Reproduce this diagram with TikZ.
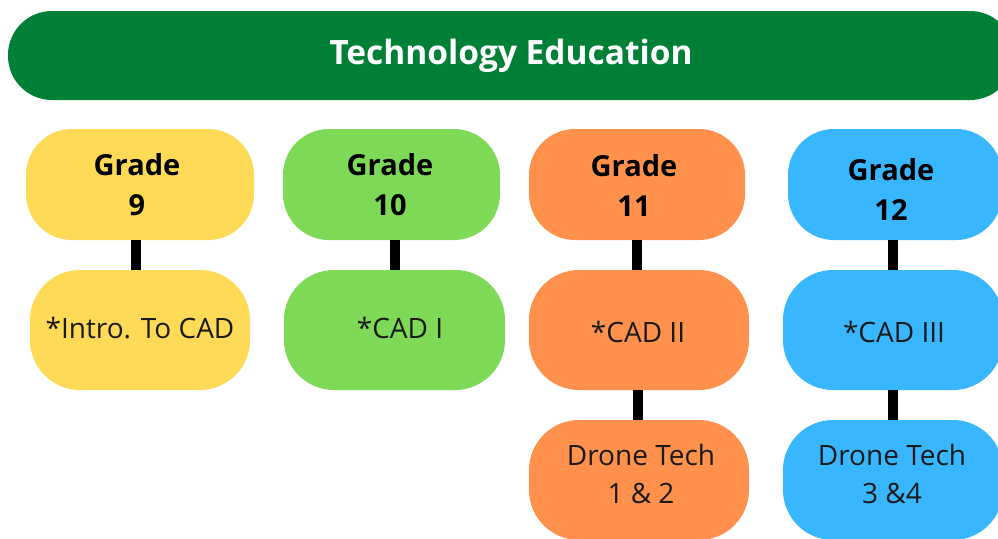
\documentclass[tikz,border=0pt]{standalone}
\usepackage{fontspec}
\setmainfont{Open Sans}
\definecolor{hdrgreen}{HTML}{008037}
\definecolor{cyellow}{HTML}{FFDA57}
\definecolor{cgreen}{HTML}{7ED957}
\definecolor{corange}{HTML}{FF914D}
\definecolor{cblue}{HTML}{38B6FF}
\definecolor{ctxt}{HTML}{1A1A1A}
\begin{document}
\begin{tikzpicture}[x=1pt,y=-1pt,
  gbox/.style={rectangle, draw=none, rounded corners=46pt, minimum height=111pt, inner sep=0pt},
  cbox/.style={rectangle, draw=none, rounded corners=50pt, minimum height=120pt, inner sep=0pt},
  gtext/.style={font=\fontsize{29}{40}\selectfont\bfseries, text=black, align=center, inner sep=0pt},
  ctext/.style={font=\fontsize{28}{38}\selectfont, text=ctxt, align=center, inner sep=0pt},
  link/.style={line width=10pt, black}]
\useasboundingbox (0,0) rectangle (998,538);
\clip (0,0) rectangle (998,538);
% header
\node[rectangle, rounded corners=44pt, fill=hdrgreen, minimum width=1006pt, minimum height=89pt, inner sep=0pt] (hdr) at (511,55.5) {};
\node[font=\fontsize{33.5}{40}\selectfont\bfseries, text=white, inner sep=0pt] (hdrt) at (511,56) {Technology Education};
% grade boxes
\node[gbox, fill=cyellow, minimum width=228pt] (g9) at (140,184.5) {};
\node[gbox, fill=cgreen, minimum width=217pt] (g10) at (391.5,184.5) {};
\node[gbox, fill=corange, minimum width=216pt] (g11) at (637,184.5) {};
\node[gbox, fill=cblue, minimum width=214pt] (g12) at (895,184.5) {};
% course boxes
\node[cbox, fill=cyellow, minimum width=220pt] (c9) at (140,330) {};
\node[cbox, fill=cgreen, minimum width=221pt] (c10) at (394.5,330) {};
\node[cbox, fill=corange, minimum width=220pt] (c11) at (639,330) {};
\node[cbox, fill=cblue, minimum width=220pt] (c12) at (893,330) {};
\node[cbox, fill=corange, minimum width=220pt] (d11) at (639,480) {};
\node[cbox, fill=cblue, minimum width=220pt] (d12) at (893,480) {};
% connectors
\draw[link] (g9.south -| 136,0) -- (c9.north -| 136,0);
\draw[link] (g10.south -| 395,0) -- (c10.north -| 395,0);
\draw[link] (g11.south -| 637,0) -- (c11.north -| 637,0);
\draw[link] (g12.south -| 893,0) -- (c12.north -| 893,0);
\draw[link] (c11.south -| 638,0) -- (d11.north -| 638,0);
\draw[link] (c12.south -| 893,0) -- (d12.north -| 893,0);
% texts
\node[gtext] (g9t) at (137,185) {Grade\\9};
\node[gtext] (g10t) at (390,185) {Grade\\10};
\node[gtext] (g11t) at (634,185) {Grade\\11};
\node[gtext] (g12t) at (891,189) {Grade\\12};
\node[ctext] (c9t) at (140,328) {*Intro. To CAD};
\node[ctext] (c10t) at (400,328) {*CAD I};
\node[ctext] (c11t) at (638,332) {*CAD II};
\node[ctext] (c12t) at (894,332) {*CAD III};
\node[ctext] (d11t) at (641,474) {Drone Tech\\1 \& 2};
\node[ctext] (d12t) at (892,474) {Drone Tech\\3 \&4};
\end{tikzpicture}
\end{document}
